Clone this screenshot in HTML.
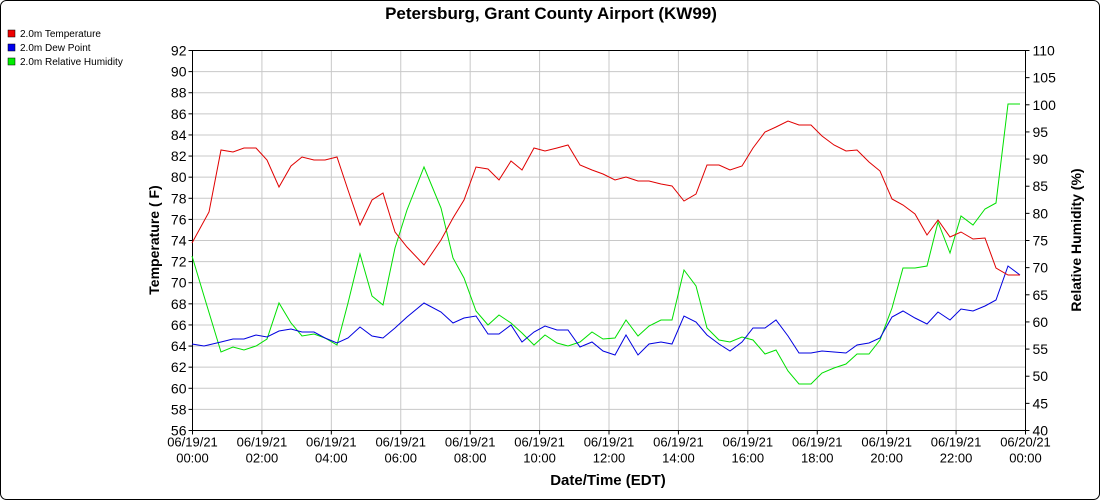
<!DOCTYPE html>
<html><head><meta charset="utf-8"><style>
body{margin:0;background:#fff}
svg{display:block;font-family:"Liberation Sans",Arial,sans-serif}
</style></head><body>
<svg width="1100" height="500" xmlns="http://www.w3.org/2000/svg">
<rect x="0.5" y="0.5" width="1099" height="499" rx="6" fill="#fff" stroke="#000"/>
<text x="551" y="19" text-anchor="middle" font-size="17" font-weight="bold">Petersburg, Grant County Airport (KW99)</text>
<g font-size="10">
<rect x="8" y="30" width="7" height="7" fill="#e00" stroke="#000" stroke-width="0.5"/><text x="20" y="37">2.0m Temperature</text>
<rect x="8" y="44" width="7" height="7" fill="#00e" stroke="#000" stroke-width="0.5"/><text x="20" y="51">2.0m Dew Point</text>
<rect x="8" y="58" width="7" height="7" fill="#0e0" stroke="#000" stroke-width="0.5"/><text x="20" y="65">2.0m Relative Humidity</text>
</g>
<g stroke="#c8c8c8" stroke-width="1" id="grid"></g>
<g id="axes"></g>
<polyline fill="none" stroke="#00e000" stroke-width="1" points="192,256 204,296 221,352 233,347 244,350 256,346 267,339 279,303 291,323 302,336 314,334 325,338 337,345 348,303 360,254 372,296 383,305 395,248 407,210 424,167 441,208 453,258 464,278 476,311 488,325 499,315 511,323 522,333 534,345 545,335 557,343 568,346 580,342 592,332 603,339 615,338 626,320 638,336 649,326 661,320 672,320 684,270 696,286 707,328 719,340 730,342 742,337 753,340 765,354 776,350 788,371 799,384 811,384 822,373 834,368 846,364 857,354 869,354 880,340 892,308 903,268 915,268 927,266 938,222 950,253 961,216 973,225 985,209 996,203 1008,104 1020,104"/>
<polyline fill="none" stroke="#0000e0" stroke-width="1" points="192,344 204,346 221,342 233,339 244,339 256,335 267,337 279,331 291,329 302,332 314,332 325,338 337,343 348,338 360,327 372,336 383,338 395,328 407,317 424,303 441,312 453,323 464,318 476,316 488,334 499,334 511,325 522,342 534,332 545,326 557,330 568,330 580,347 592,342 603,351 615,355 626,335 638,355 649,344 661,342 672,344 684,316 696,322 707,335 719,344 730,351 742,342 753,328 765,328 776,320 788,336 799,353 811,353 822,351 834,352 846,353 857,345 869,343 880,338 892,317 903,311 915,318 927,324 938,312 950,320 961,309 973,311 985,306 996,300 1008,266 1020,275"/>
<polyline fill="none" stroke="#e00000" stroke-width="1" points="192,243 209,212 221,150 233,152 244,148 256,148 267,160 279,187 291,166 302,157 314,160 325,160 337,157 348,190 360,225 372,200 383,193 395,232 407,247 424,265 441,240 453,218 464,200 476,167 488,169 499,180 511,161 522,170 534,148 545,151 557,148 568,145 580,165 592,170 603,174 615,180 626,177 638,181 649,181 661,184 672,186 684,201 696,194 707,165 719,165 730,170 742,166 753,148 765,132 776,127 788,121 799,125 811,125 822,136 834,145 846,151 857,150 869,162 880,171 892,199 903,205 915,214 927,235 938,220 950,237 961,232 973,239 985,238 996,268 1008,275 1020,275"/>
<text transform="translate(159,240) rotate(-90)" text-anchor="middle" font-size="14" font-weight="bold">Temperature ( F)</text>
<text transform="translate(1081,240) rotate(-90)" text-anchor="middle" font-size="14" font-weight="bold">Relative Humidity (%)</text>
<text x="608" y="485" text-anchor="middle" font-size="15" font-weight="bold">Date/Time (EDT)</text>
<script>
var ns="http://www.w3.org/2000/svg",g=document.getElementById('grid'),a=document.getElementById('axes');
function el(p,t,at,txt){var e=document.createElementNS(ns,t);for(var k in at)e.setAttribute(k,at[k]);if(txt!=null)e.textContent=txt;p.appendChild(e);return e;}
var L=192.5,R=1025.5,T=50.5,B=430.5;
for(var i=0;i<=18;i++){var y=B-i*(B-T)/18;el(g,'line',{x1:L,x2:R,y1:y,y2:y});el(a,'line',{x1:L-4,x2:L,y1:y,y2:y,stroke:'#000'});el(a,'text',{x:L-6,y:y+5,'text-anchor':'end','font-size':'14'},56+2*i);}
for(var i=0;i<=14;i++){var y=B-i*(B-T)/14;el(a,'line',{x1:R,x2:R+4,y1:y,y2:y,stroke:'#000'});el(a,'text',{x:R+7,y:y+5,'font-size':'14'},40+5*i);}
for(var i=0;i<=12;i++){var x=L+i*(R-L)/12;el(g,'line',{x1:x,x2:x,y1:T,y2:B});el(a,'line',{x1:x,x2:x,y1:B,y2:B+4,stroke:'#000'});
var d=i==12?'06/20/21':'06/19/21',h=i==12?'00:00':((2*i<10?'0':'')+2*i+':00');
el(a,'text',{x:x,y:B+16,'text-anchor':'middle','font-size':'13'},d);el(a,'text',{x:x,y:B+32,'text-anchor':'middle','font-size':'13'},h);}
el(a,'rect',{x:L,y:T,width:R-L,height:B-T,fill:'none',stroke:'#000'});
</script>
</svg>
</body></html>
